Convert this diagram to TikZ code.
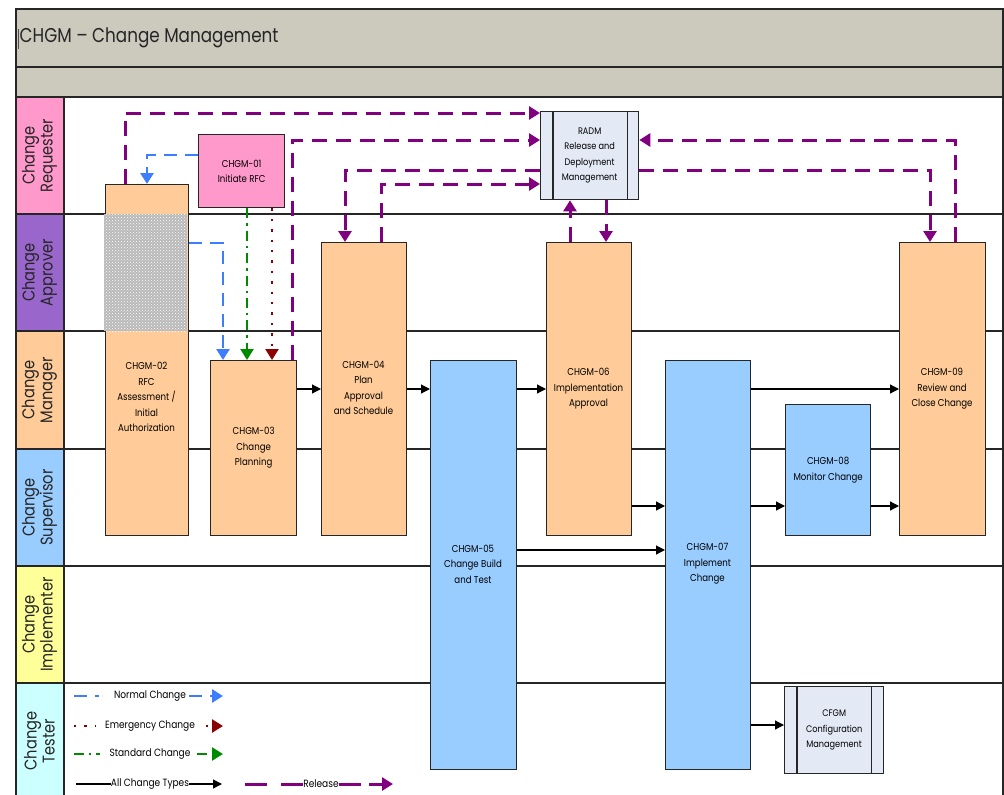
\documentclass[tikz,border=0pt]{standalone}
\usepackage{fontspec}
\setmainfont{Poppins}
\newfontfamily\titlefont{Poppins}[FakeStretch=0.84]
\newfontfamily\boxfont{Poppins}[FakeStretch=0.86]
\usetikzlibrary{arrows.meta,patterns}

\definecolor{hdrgray}{HTML}{CCC9BD}
\definecolor{reqpink}{HTML}{FF99CC}
\definecolor{apprpurple}{HTML}{9966CC}
\definecolor{mgrorange}{HTML}{FFCC99}
\definecolor{supblue}{HTML}{99CCFF}
\definecolor{implyellow}{HTML}{FFFF99}
\definecolor{testcyan}{HTML}{CCFFFF}
\definecolor{extfill}{HTML}{E3EAF6}
\definecolor{normblue}{HTML}{3D7EFF}
\definecolor{emred}{HTML}{8B0000}
\definecolor{stdgreen}{HTML}{008A00}
\definecolor{relpurple}{HTML}{800080}

\tikzset{
  frame/.style={draw=black!85, line width=1.3pt},
  lanelabel/.style={rotate=90, font=\boxfont\fontsize{17}{18}\selectfont, align=center, text=black!85, inner sep=0pt},
  procbox/.style={draw=black!85, line width=1.3pt, anchor=north west, inner sep=0pt, font=\boxfont\fontsize{10}{15.5}\selectfont, align=center, text=black},
  orangebox/.style={procbox, fill=mgrorange},
  bluebox/.style={procbox, fill=supblue},
  pinkbox/.style={procbox, fill=reqpink},
  extbox/.style={procbox, fill=extfill, font=\boxfont\fontsize{9.5}{15.5}\selectfont},
  boxtext/.style={font=\boxfont\fontsize{10}{15.5}\selectfont, align=center, text=black, inner sep=0pt},
  legtext/.style={font=\boxfont\fontsize{10.5}{12}\selectfont, text=black, inner sep=0pt},
  innerline/.style={draw=black!85, line width=1.3pt},
  flow/.style={draw=black, line width=1.2pt, -{Triangle[length=9pt,width=9pt]}},
  plainflow/.style={draw=black, line width=1.2pt},
  release/.style={draw=relpurple, line width=3pt, dash pattern=on 15pt off 9pt},
  relarrow/.style={release, -{Triangle[length=11pt,width=13pt]}},
  normal/.style={draw=normblue, line width=2.6pt, dash pattern=on 13pt off 8pt},
  normarrow/.style={normal, -{Triangle[length=11pt,width=13pt]}},
  emdots/.style={draw=emred, line width=2.4pt, dash pattern=on 2.4pt off 8pt},
  emarrow/.style={emdots, -{Triangle[length=11pt,width=13pt]}},
  stddash/.style={draw=stdgreen, line width=2.4pt, dash pattern=on 10pt off 5pt on 2.4pt off 5pt},
  stdarrow/.style={stddash, -{Triangle[length=11pt,width=13pt]}},
}

\begin{document}
\begin{tikzpicture}[x=1pt, y=-1pt]
\useasboundingbox (0,0) rectangle (1004,795);
\clip (0,0) rectangle (1004,795);

% header bands
\filldraw[frame, fill=hdrgray] (16,9) rectangle (1003,67);
\filldraw[frame, fill=hdrgray] (16,67) rectangle (1003,97);
\node[anchor=west, font=\titlefont\fontsize{20}{22}\selectfont, text=black!85, inner sep=0pt] (title) at (19.5,38) {CHGM – Change Management};
\draw[black!70, line width=0.6pt] (18.5,29) -- (18.5,49);

% swim lanes
\filldraw[frame, fill=reqpink] (16,97) rectangle (64,214);
\draw[frame] (64,97) rectangle (1003,214);
\node[lanelabel] (l1) at (39.5,155.5) {Change\\Requester};

\filldraw[frame, fill=apprpurple] (16,214) rectangle (64,331);
\draw[frame] (64,214) rectangle (1003,331);
\node[lanelabel] (l2) at (39.5,272.5) {Change\\Approver};

\filldraw[frame, fill=mgrorange] (16,331) rectangle (64,449);
\draw[frame] (64,331) rectangle (1003,449);
\node[lanelabel] (l3) at (39.5,390) {Change\\Manager};

\filldraw[frame, fill=supblue] (16,449) rectangle (64,566);
\draw[frame] (64,449) rectangle (1003,566);
\node[lanelabel] (l4) at (39.5,507.5) {Change\\Supervisor};

\filldraw[frame, fill=implyellow] (16,566) rectangle (64,683);
\draw[frame] (64,566) rectangle (1003,683);
\node[lanelabel] (l5) at (39.5,624.5) {Change\\Implementer};

\filldraw[frame, fill=testcyan] (16,683) rectangle (64,800);
\draw[frame] (64,683) rectangle (1003,800);
\node[lanelabel] (l6) at (39.5,741) {Change\\Tester};

% process steps
\node[pinkbox, minimum width=86pt, minimum height=73pt] (c01) at (198,134) {CHGM-01\\Initiate RFC};
\node[orangebox, minimum width=83pt, minimum height=351pt] (c02) at (105,184) {};
\fill[gray!55] (104.2,214) rectangle (187.4,331);
\fill[pattern=crosshatch dots, pattern color=white] (104.2,214) rectangle (187.4,331);
\node[orangebox, minimum width=86pt, minimum height=175pt] (c03) at (210,360) {CHGM-03\\Change\\Planning};
\node[orangebox, minimum width=85pt, minimum height=293pt] (c04) at (321,242) {};
\node[bluebox, minimum width=86pt, minimum height=409pt] (c05) at (430,360) {};
\node[orangebox, minimum width=85pt, minimum height=293pt] (c06) at (546,242) {};
\node[bluebox, minimum width=85pt, minimum height=409pt] (c07) at (665,360) {};
\node[bluebox, minimum width=85pt, minimum height=131pt] (c08) at (785,404) {CHGM-08\\Monitor Change};
\node[orangebox, minimum width=86pt, minimum height=293pt] (c09) at (899,242) {};

\node[boxtext] (t02) at (146.5,397) {CHGM-02\\RFC\\Assessment /\\Initial\\Authorization};
\node[boxtext] (t04) at (363.5,388) {CHGM-04\\Plan\\Approval\\and Schedule};
\node[boxtext] (t05) at (473,564) {CHGM-05\\Change Build\\and Test};
\node[boxtext] (t06) at (588.5,389) {CHGM-06\\Implementation\\Approval};
\node[boxtext] (t07) at (707.5,564) {CHGM-07\\Implement\\Change};
\node[boxtext] (t09) at (942,389) {CHGM-09\\Review and\\Close Change};

% linked processes
\node[extbox, minimum width=98pt, minimum height=88pt] (radm) at (540,111) {RADM\\Release and\\Deployment\\Management};
\draw[innerline] ([xshift=13pt]radm.north west) -- ([xshift=13pt]radm.south west);
\draw[innerline] ([xshift=-12pt]radm.north east) -- ([xshift=-12pt]radm.south east);

\node[extbox, minimum width=99pt, minimum height=87pt] (cfgm) at (784,686) {CFGM\\Configuration\\Management};
\draw[innerline] ([xshift=13pt]cfgm.north west) -- ([xshift=13pt]cfgm.south west);
\draw[innerline] ([xshift=-13pt]cfgm.north east) -- ([xshift=-13pt]cfgm.south east);

% rows used by the flow connectors
\coordinate (yA) at (0,389);
\coordinate (yB) at (0,506);
\coordinate (yC) at (0,550);
\coordinate (yD) at (0,725);

% all change types
\draw[flow] (c03.east |- yA) -- (c04.west |- yA);
\draw[flow] (c04.east |- yA) -- (c05.west |- yA);
\draw[flow] (c05.east |- yA) -- (c06.west |- yA);
\draw[flow] (c06.east |- yB) -- (c07.west |- yB);
\draw[flow] (c05.east |- yC) -- (c07.west |- yC);
\draw[flow] (c07.east |- yA) -- (c09.west |- yA);
\draw[flow] (c07.east |- yB) -- (c08.west |- yB);
\draw[flow] (c08.east |- yB) -- (c09.west |- yB);
\draw[flow] (c07.east |- yD) -- (cfgm.west |- yD);

% normal change
\draw[normarrow] (c01.west |- 0,155) -| (c02.north -| 147,0);
\draw[normarrow] (c02.east |- 0,243) -| (c03.north -| 223,0);
% standard change
\draw[stdarrow] (c01.south -| 247,0) -- (c03.north -| 247,0);
% emergency change
\draw[emarrow] (c01.south -| 272,0) -- (c03.north -| 272,0);

% release
\draw[relarrow] (c02.north -| 125,0) |- (radm.west |- 0,113);
\draw[relarrow] (c03.north -| 292,0) |- (radm.west |- 0,140);
\draw[relarrow] (radm.west |- 0,170) -| (c04.north -| 345,0);
\draw[relarrow] (c04.north -| 381,0) |- (radm.west |- 0,184);
\draw[relarrow] (c06.north -| 570,0) -- (radm.south -| 570,0);
\draw[relarrow] (radm.south -| 606,0) -- (c06.north -| 606,0);
\draw[relarrow] (c09.north -| 955,0) |- (radm.east |- 0,140);
\draw[relarrow] (radm.east |- 0,170) -| (c09.north -| 930,0);

% legend
\coordinate (g1a) at (74,696);  \coordinate (g1b) at (99,696);
\node[legtext] (lg1) at (150,696) {Normal Change};
\coordinate (g1c) at (189,696); \coordinate (g1d) at (223,696);
\draw[normal] (g1a) -- (g1b);
\draw[normarrow] (g1c) -- (g1d);

\coordinate (g2a) at (74,726);  \coordinate (g2b) at (96,726);
\node[legtext] (lg2) at (150,726) {Emergency Change};
\coordinate (g2c) at (206,726); \coordinate (g2d) at (223,726);
\draw[emdots] (g2a) -- (g2b);
\draw[emarrow] (g2c) -- (g2d);

\coordinate (g3a) at (74,754);  \coordinate (g3b) at (100,754);
\node[legtext] (lg3) at (150,754) {Standard Change};
\coordinate (g3c) at (197,754); \coordinate (g3d) at (223,754);
\draw[stddash] (g3a) -- (g3b);
\draw[stdarrow] (g3c) -- (g3d);

\coordinate (g4a) at (76,784);
\node[legtext] (lg4) at (150,784) {All Change Types};
\coordinate (g4d) at (222,784);
\draw[plainflow] (g4a) -- (lg4.west);
\draw[flow] (lg4.east) -- (g4d);

\coordinate (g5a) at (245,784);
\node[legtext] (lg5) at (321,784) {Release};
\coordinate (g5d) at (393,784);
\draw[release, dash pattern=on 22pt off 14pt] (g5a) -- (lg5.west);
\draw[relarrow, dash pattern=on 22pt off 8pt] (lg5.east) -- (g5d);
\end{tikzpicture}
\end{document}
